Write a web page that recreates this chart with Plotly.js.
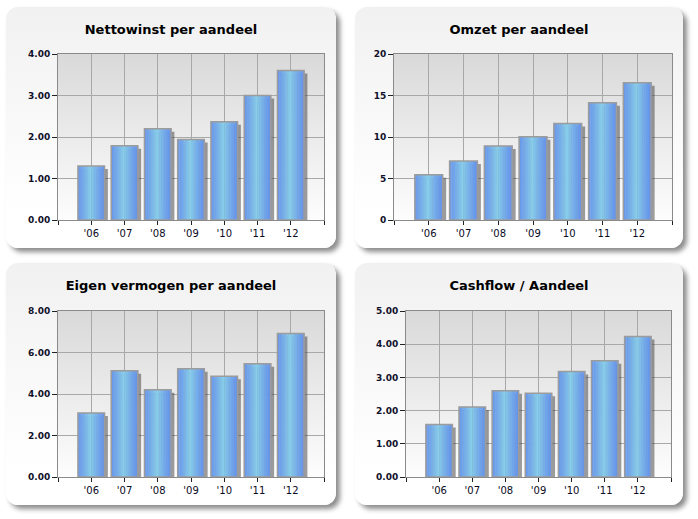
<!DOCTYPE html>
<html>
<head>
<meta charset="utf-8">
<script src="https://cdn.plot.ly/plotly-3.0.1.min.js"></script>
<style>
  html, body { margin:0; padding:0; background:#ffffff; width:698px; height:519px; overflow:hidden; }
  .box { position:absolute; border-radius:12px; background:linear-gradient(#f1f1f1, #ffffff 85%);
         box-shadow: 4px 4px 5px rgba(0,0,0,0.45); }
</style>
</head>
<body>
<div id="p1" class="box" style="left:6px; top:7px; width:330px; height:241px;"></div>
<div id="p2" class="box" style="left:355px; top:7px; width:328px; height:241px;"></div>
<div id="p3" class="box" style="left:6px; top:263px; width:330px; height:242px;"></div>
<div id="p4" class="box" style="left:355px; top:263px; width:328px; height:242px;"></div>
<script>
// ---- data ----
var years = ["'06", "'07", "'08", "'09", "'10", "'11", "'12"];
var nettowinst = [1.30, 1.79, 2.20, 1.94, 2.37, 3.00, 3.60];
var omzet = [5.45, 7.10, 8.93, 10.02, 11.63, 14.12, 16.54];
var eigenVermogen = [3.09, 5.12, 4.20, 5.22, 4.85, 5.46, 6.91];
var cashflow = [1.58, 2.11, 2.60, 2.52, 3.18, 3.50, 4.23];

var titles = ["Nettowinst per aandeel", "Omzet per aandeel", "Eigen vermogen per aandeel", "Cashflow / Aandeel"];

// ---- styling helpers ----
function hex(c){ return [parseInt(c.substr(1,2),16), parseInt(c.substr(3,2),16), parseInt(c.substr(5,2),16)]; }
function lerp(a,b,t){ var A=hex(a),B=hex(b); return 'rgb('+A.map(function(v,i){return Math.round(v+(B[i]-v)*t);}).join(',')+')'; }

var bgSvg = "<svg xmlns='http://www.w3.org/2000/svg' width='10' height='10' preserveAspectRatio='none'>" +
  "<defs><linearGradient id='g' x1='0' y1='0' x2='0' y2='1'><stop offset='0' stop-color='#d9d9d9'/>" +
  "<stop offset='1' stop-color='#fdfdfd'/></linearGradient></defs><rect width='10' height='10' fill='url(#g)'/></svg>";
var bgSrc = 'data:image/svg+xml;charset=utf-8,' + encodeURIComponent(bgSvg);

function makePanel(div, title, values, ymax, dtick, fmt, w, h, m){
  var idx = values.map(function(v,i){ return i; });
  var bw = 0.8, N = 16;
  var plotH = h - m.t - m.b;
  var d = 3 * ymax / plotH; // 3px in data units
  var traces = [];
  // shadow
  traces.push({type:'bar', x:idx, y:values, base:values.map(function(){return -d;}), width:bw, offset:-bw/2+0.1,
    marker:{color:'rgba(60,60,60,0.5)', line:{width:0}}, hoverinfo:'skip', showlegend:false});
  // gradient strips
  for (var i=0;i<N;i++){
    var t = (i+0.5)/N;
    var s = 1 - Math.abs(t-0.47)/0.53; if (s<0) s=0;
    s = Math.pow(s, 1.2);
    traces.push({type:'bar', x:idx, y:values, width:bw/N*1.2, offset:-bw/2 + i*bw/N,
      marker:{color:lerp('#6592ea','#88cde9',s), line:{width:0}}, hoverinfo:'skip', showlegend:false});
  }
  // border
  traces.push({type:'bar', x:idx, y:values, width:bw, offset:-bw/2,
    marker:{color:'rgba(0,0,0,0)', line:{color:'#9c9c9c', width:1.5}}, hoverinfo:'skip', showlegend:false});

  var tv = [-1].concat(idx).concat([idx.length]);
  var tt = [''].concat(years).concat(['']);
  var layout = {
    width:w, height:h, margin:m,
    paper_bgcolor:'rgba(0,0,0,0)', plot_bgcolor:'rgba(0,0,0,0)',
    barmode:'overlay', showlegend:false,
    title:{text:title, x:0.5, xanchor:'center', y:1-22/h, yanchor:'middle', yref:'container',
      font:{family:'DejaVu Sans', size:13, weight:'bold', color:'#000000'}},
    xaxis:{range:[-1, idx.length], tickvals:tv, ticktext:tt, showgrid:true, gridcolor:'#a8a8a8', gridwidth:1,
      zeroline:false, showline:true, linecolor:'#8a8a8a', linewidth:1, mirror:true,
      ticks:'outside', ticklen:4, tickcolor:'#222', tickwidth:1,
      tickfont:{family:'DejaVu Sans', size:10, color:'#0a0a22'}, fixedrange:true},
    yaxis:{range:[0, ymax], dtick:dtick, tick0:0, tickformat:fmt, showgrid:true, gridcolor:'#a8a8a8', gridwidth:1,
      zeroline:false, showline:true, linecolor:'#8a8a8a', linewidth:1, mirror:true,
      ticks:'outside', ticklen:5, tickcolor:'#222', tickwidth:1,
      tickfont:{family:'DejaVu Sans', size:9, weight:'bold', color:'#10102a'}, fixedrange:true},
    images:[{source:bgSrc, xref:'paper', yref:'paper', x:0, y:1, sizex:1, sizey:1, xanchor:'left', yanchor:'top',
      sizing:'stretch', layer:'below'}]
  };
  Plotly.newPlot(div, traces, layout, {staticPlot:true, displayModeBar:false});
}

makePanel('p1', titles[0], nettowinst, 4, 1, '.2f', 330, 241, {l:52, r:12, t:47, b:28});
makePanel('p2', titles[1], omzet, 20, 5, 'd', 328, 241, {l:39, r:11, t:47, b:28});
makePanel('p3', titles[2], eigenVermogen, 8, 2, '.2f', 330, 242, {l:52, r:12, t:48, b:28});
makePanel('p4', titles[3], cashflow, 5, 1, '.2f', 328, 242, {l:51, r:12, t:48, b:28});
</script>
</body>
</html>
